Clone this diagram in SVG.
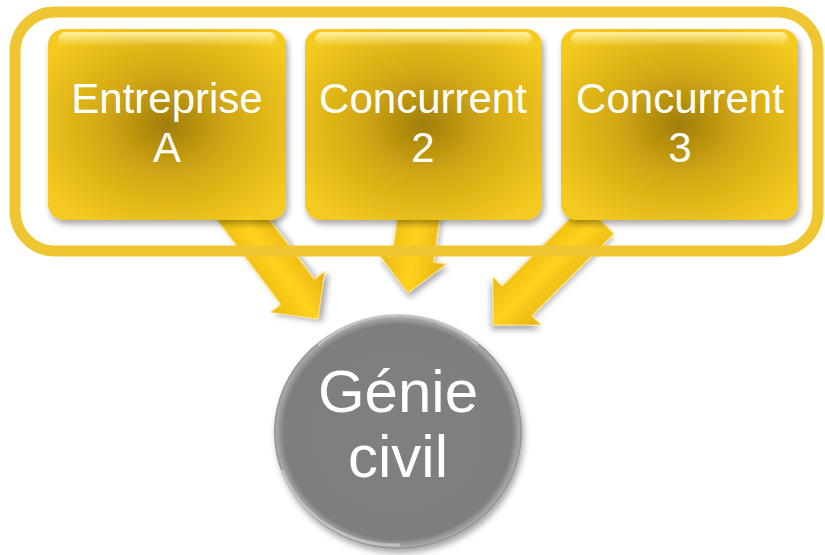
<svg xmlns="http://www.w3.org/2000/svg" width="825" height="555" viewBox="0 0 825 555">
<defs>
<radialGradient id="boxG" cx="0.5" cy="0.5" r="0.6">
<stop offset="0" stop-color="#A07E0C"/>
<stop offset="0.45" stop-color="#D3A814"/>
<stop offset="1" stop-color="#F3C920"/>
</radialGradient>
<linearGradient id="gloss" x1="0" y1="0" x2="0" y2="1">
<stop offset="0" stop-color="#FFF6B0" stop-opacity="0.9"/>
<stop offset="1" stop-color="#FFF6B0" stop-opacity="0"/>
</linearGradient>
<linearGradient id="arrG" x1="0" y1="0" x2="1" y2="0">
<stop offset="0" stop-color="#E9B80E"/>
<stop offset="0.5" stop-color="#FFD21E"/>
<stop offset="1" stop-color="#E3B010"/>
</linearGradient>
<radialGradient id="circG" cx="0.5" cy="0.5" r="0.5">
<stop offset="0" stop-color="#808080"/>
<stop offset="0.92" stop-color="#7E7E7E"/>
<stop offset="0.98" stop-color="#A8A8A8"/>
<stop offset="1" stop-color="#8A8A8A"/>
</radialGradient>
<filter id="sh" x="-20%" y="-20%" width="140%" height="140%">
<feGaussianBlur in="SourceAlpha" stdDeviation="3"/>
<feOffset dx="2" dy="4"/>
<feComponentTransfer><feFuncA type="linear" slope="0.35"/></feComponentTransfer>
<feMerge><feMergeNode/><feMergeNode in="SourceGraphic"/></feMerge>
</filter>
<polygon id="arrow" points="-21,-150 21,-150 21,-34 34,-34 0,0 -34,-34 -21,-34"/>
</defs>
<style>
.box{fill:url(#boxG);filter:url(#sh)}
.lbl{font-family:"Liberation Sans",Arial,sans-serif;fill:#FFFFFF;text-anchor:middle}
.arr{fill:url(#arrG);stroke:#FFE680;stroke-width:1;filter:url(#sh)}
.rim{fill:none;stroke:#C8C8C8;stroke-width:3;opacity:0.8}
</style>
<g id="connectors">
<use href="#arrow" class="arr" transform="translate(318,319) rotate(-37)"/>
<use href="#arrow" class="arr" transform="translate(408,293) rotate(8)"/>
<use href="#arrow" class="arr" transform="translate(493,325) rotate(45)"/>
</g>
<rect id="frame" x="15" y="12" width="803" height="239" rx="40" fill="none" stroke="#EFC532" stroke-width="11"/>
<g id="n1">
<rect class="box" x="48" y="29" width="238" height="191" rx="16"/>
<rect x="58" y="32" width="218" height="14" rx="7" fill="url(#gloss)"/>
<text class="lbl" x="167" y="113" font-size="42">Entreprise</text>
<text class="lbl" x="167" y="162" font-size="42">A</text>
</g>
<g id="n2">
<rect class="box" x="305" y="29" width="237" height="191" rx="16"/>
<rect x="315" y="32" width="217" height="14" rx="7" fill="url(#gloss)"/>
<text class="lbl" x="423" y="113" font-size="42">Concurrent</text>
<text class="lbl" x="423" y="162" font-size="42">2</text>
</g>
<g id="n3">
<rect class="box" x="561" y="29" width="237" height="191" rx="16"/>
<rect x="571" y="32" width="217" height="14" rx="7" fill="url(#gloss)"/>
<text class="lbl" x="680" y="113" font-size="42">Concurrent</text>
<text class="lbl" x="680" y="162" font-size="42">3</text>
</g>
<g id="n4">
<ellipse cx="398" cy="432" rx="124" ry="117" fill="url(#circG)" filter="url(#sh)"/>
<path class="rim" d="M318,345 A118 111 0 0 1 478,345"/>
<path class="rim" d="M282,470 A120 113 0 0 0 400,545"/>
<text class="lbl" x="398" y="412" font-size="60">Génie</text>
<text class="lbl" x="398" y="477" font-size="60">civil</text>
</g>
</svg>
